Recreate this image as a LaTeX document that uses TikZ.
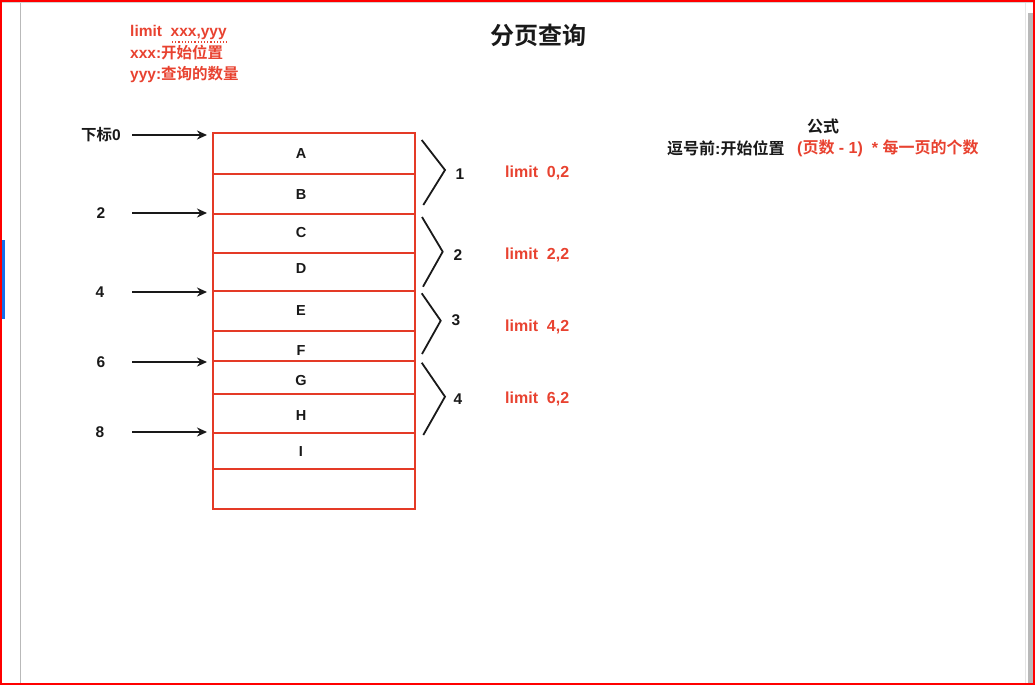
\documentclass[tikz,border=0pt]{standalone}
\usepackage{fontspec}
\setmainfont{Liberation Sans}
\newfontfamily\cjk{Noto Sans CJK SC}[BoldFont={* Bold}]
\usetikzlibrary{arrows.meta}
\definecolor{boxred}{RGB}{228,58,38}
\definecolor{txtred}{RGB}{232,66,48}
\definecolor{ink}{RGB}{25,25,25}
\definecolor{sbblue}{RGB}{20,110,235}
\newcommand\zh[1]{{\cjk\bfseries #1}}
\begin{document}
\begin{tikzpicture}[x=1pt,y=-1pt,
  every node/.style={font=\bfseries\fontsize{16}{19}\selectfont, text=ink, inner sep=0pt},
  cell/.style={draw=boxred, line width=2pt, minimum width=202pt, anchor=north west},
  letter/.style={font=\bfseries\fontsize{14.5}{17}\selectfont},
  idx/.style={font=\bfseries\fontsize{15.5}{18}\selectfont},
  redtxt/.style={text=txtred, anchor=west},
  note/.style={redtxt, font=\bfseries\fontsize{15.5}{18}\selectfont},
  arr/.style={draw=ink, line width=1.8pt, -{Stealth[length=10pt,width=9pt]}},
  brk/.style={draw=ink, line width=1.8pt, line join=miter}
]
\useasboundingbox (0,0) rectangle (1035,685);
% screenshot frame
\fill[gray!35] (0,0) rectangle (1035,3);
\draw[gray!55, line width=1.5pt] (20.5,3) -- (20.5,685);
\draw[gray!20, line width=1pt] (1025,3) -- (1025,685);
\fill[gray!55] (1028,13) rectangle (1033,683);
\fill[sbblue] (1.5,240) rectangle (5,319);
\draw[red, line width=2pt] (1,1) rectangle (1034,684);

% title
\node (title) at (538,35) {\fontsize{24}{27}\selectfont\zh{分页查询}};

% top-left notes
\node[note] (n1) at (130,32) {limit\ \ xxx,yyy};
\draw[txtred, line width=1.2pt, dotted] (172,42) -- (227,42);
\node[note] (n2) at (130,53) {xxx:\zh{开始位置}};
\node[note] (n3) at (130,75) {yyy:\zh{查询的数量}};

% formula
\node (f1) at (823,126) {\zh{公式}};
\node[anchor=west] (f2) at (667,148) {\zh{逗号前}:\zh{开始位置}};
\node[redtxt] (f3) at (797,148) {(\zh{页数} - 1)\ \ * \zh{每一页的个数}};

% cells
\node[cell, minimum height=40.4pt] (cA) at (212.3,132.3) {};
\node[cell, minimum height=40.3pt] (cB) at (212.3,172.7) {};
\node[cell, minimum height=39pt]   (cC) at (212.3,213) {};
\node[cell, minimum height=37.5pt] (cD) at (212.3,252) {};
\node[cell, minimum height=40.2pt] (cE) at (212.3,289.5) {};
\node[cell, minimum height=30.3pt] (cF) at (212.3,329.7) {};
\node[cell, minimum height=33.3pt] (cG) at (212.3,360) {};
\node[cell, minimum height=38.4pt] (cH) at (212.3,393.3) {};
\node[cell, minimum height=36pt]   (cI) at (212.3,431.7) {};
\node[cell, minimum height=40.6pt] (cJ) at (212.3,467.7) {};

\node[letter] (tA) at (301,154) {A};
\node[letter] (tB) at (301,195) {B};
\node[letter] (tC) at (301,233) {C};
\node[letter] (tD) at (301,269) {D};
\node[letter] (tE) at (301,311) {E};
\node[letter] (tF) at (301,351) {F};
\node[letter] (tG) at (301,381) {G};
\node[letter] (tH) at (301,416) {H};
\node[letter] (tI) at (301,452) {I};

% index labels and arrows
\node[idx] (i0) at (101,135) {\zh{下标}0};
\node[idx] (i2) at (101,213) {2};
\node[idx] (i4) at (100,292) {4};
\node[idx] (i6) at (101,362) {6};
\node[idx] (i8) at (100,432) {8};
\foreach \n/\y in {0/135,2/213,4/292,6/362,8/432}{
  \coordinate (s\n) at (132,\y);
  \coordinate (e\n) at (207,\y);
  \draw[arr] (s\n) -- (e\n);
}

% brackets
\coordinate (b1a) at (421.7,140);   \coordinate (b1t) at (445,170);   \coordinate (b1b) at (423.3,205);
\coordinate (b2a) at (422,217);     \coordinate (b2t) at (442.7,251.7); \coordinate (b2b) at (423,286.7);
\coordinate (b3a) at (421.7,293.3); \coordinate (b3t) at (440.7,320.7); \coordinate (b3b) at (422,354);
\coordinate (b4a) at (421.7,362.7); \coordinate (b4t) at (445,396.7); \coordinate (b4b) at (423.3,435);
\foreach \k in {1,2,3,4}{
  \draw[brk] (b\k a) -- (b\k t) -- (b\k b);
}
\node[idx] (p1) at (460,174) {1};
\node[idx] (p2) at (458,255) {2};
\node[idx] (p3) at (456,320) {3};
\node[idx] (p4) at (458,399) {4};

\node[redtxt] (l1) at (505,173) {limit\ \ 0,2};
\node[redtxt] (l2) at (505,255) {limit\ \ 2,2};
\node[redtxt] (l3) at (505,327) {limit\ \ 4,2};
\node[redtxt] (l4) at (505,399) {limit\ \ 6,2};
\end{tikzpicture}
\end{document}
